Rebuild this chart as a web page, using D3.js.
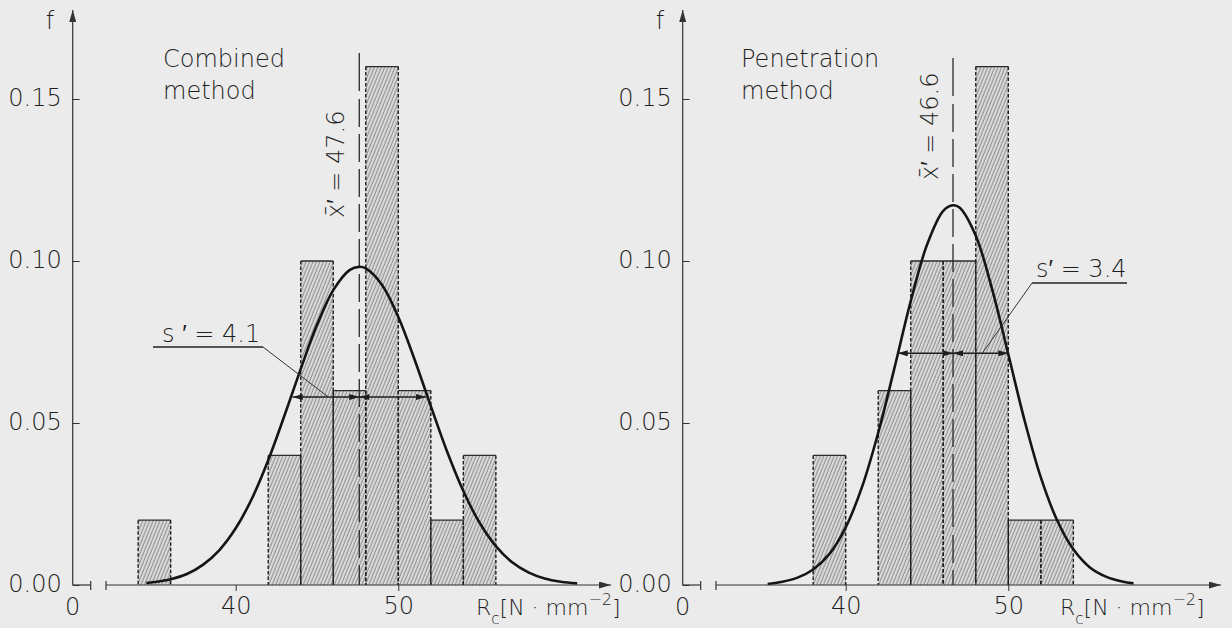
<!DOCTYPE html>
<html>
<head>
<meta charset="utf-8">
<script src="https://cdn.jsdelivr.net/npm/d3@7"></script>
<style>
  html, body { margin: 0; padding: 0; background: #ebebeb; }
  svg { display: block; }
  text { font-family: "DejaVu Sans", "Liberation Sans", sans-serif; font-weight: 200; fill: #1f1f1f; }
</style>
</head>
<body>
<div id="chart"></div>
<script>
// ── Data ───────────────────────────────────────────────────────────────
const yTicks = [0, 0.05, 0.1, 0.15];
const xTicks = [40, 50];
const binWidth = 2;

// Combined method: left edges of the bins and relative frequency
const combinedBins = [34, 42, 44, 46, 48, 50, 52, 54];
const combinedFreq = [0.02, 0.04, 0.10, 0.06, 0.16, 0.06, 0.02, 0.04];
// fitted curve
const combinedCurveX = [34.5, 35, 36, 37, 38, 39, 40, 41, 42, 43, 44, 45, 46, 47, 47.6,
  48, 49, 50, 51, 52, 53, 54, 55, 56, 57, 58, 59, 60, 61];
const combinedCurveF = [0.0006, 0.0009, 0.0018, 0.0034, 0.0063, 0.0108, 0.0175, 0.0267,
  0.0385, 0.0523, 0.0667, 0.0803, 0.0910, 0.0972, 0.0982, 0.0977, 0.0926, 0.0827, 0.0696,
  0.0552, 0.0412, 0.0290, 0.0192, 0.0120, 0.0070, 0.0039, 0.0020, 0.0010, 0.0005];

// Penetration method
const penetrationBins = [38, 42, 44, 46, 48, 50, 52];
const penetrationFreq = [0.04, 0.06, 0.10, 0.10, 0.16, 0.02, 0.02];
const penetrationCurveX = [35.2, 36, 37, 38, 39, 40, 41, 42, 43, 44, 45, 46, 46.6, 47,
  48, 49, 50, 51, 52, 53, 54, 55, 56, 57, 57.7];
const penetrationCurveF = [0.0003, 0.0009, 0.0022, 0.0048, 0.0096, 0.0178, 0.0302, 0.0470,
  0.0670, 0.0876, 0.1050, 0.1155, 0.1172, 0.1165, 0.1078, 0.0914, 0.0712, 0.0508, 0.0332,
  0.0200, 0.0110, 0.0055, 0.0026, 0.0011, 0.0005];

// ── Panels ─────────────────────────────────────────────────────────────
const panels = [
  {
    offset: 0,
    title: ["Combined", "method"],
    bins: combinedBins, freq: combinedFreq,
    curveX: combinedCurveX, curveF: combinedCurveF,
    mean: 47.6, s: 4.1, meanLabel: "x\u0304\u2032 = 47.6", meanTop: 53, meanLabelY: 218,
    sLabel: "s \u2032 = 4.1", sArrowF: 0.058, sLeaderAt: 45.7,
    sText: { x: 162, y: 342, u0: 153, u1: 263, uy: 347, side: "left" },
    unitX: 476,
  },
  {
    offset: 610,
    title: ["Penetration", "method"],
    bins: penetrationBins, freq: penetrationFreq,
    curveX: penetrationCurveX, curveF: penetrationCurveF,
    mean: 46.6, s: 3.4, meanLabel: "x\u0304\u2032 = 46.6", meanTop: 58, meanLabelY: 180,
    sLabel: "s\u2032 = 3.4", sArrowF: 0.0715, sLeaderAt: 48.4,
    sText: { x: 426, y: 277, u0: 422, u1: 517, uy: 283, side: "right" },
    unitX: 450,
  },
];

// ── SVG ────────────────────────────────────────────────────────────────
const W = 1232, H = 628;
const svg = d3.select("#chart").append("svg").attr("width", W).attr("height", H);

const defs = svg.append("defs");
const pat = defs.append("pattern")
  .attr("id", "hatch")
  .attr("patternUnits", "userSpaceOnUse")
  .attr("width", 3.2).attr("height", 10)
  .attr("patternTransform", "rotate(22)");
pat.append("rect").attr("width", 3.2).attr("height", 10).attr("fill", "#dadada");
pat.append("line")
  .attr("x1", 1).attr("x2", 1).attr("y1", 0).attr("y2", 10)
  .attr("stroke", "#7c7c7c").attr("stroke-width", 0.85);

defs.append("marker")
  .attr("id", "head")
  .attr("viewBox", "0 0 10 6").attr("refX", 10).attr("refY", 3)
  .attr("markerWidth", 12).attr("markerHeight", 6)
  .attr("markerUnits", "userSpaceOnUse")
  .attr("orient", "auto-start-reverse")
  .append("path").attr("d", "M0,0L10,3L0,6Z").attr("fill", "#1e1e1e");

defs.append("marker")
  .attr("id", "axisHead")
  .attr("viewBox", "0 0 12 7").attr("refX", 12).attr("refY", 3.5)
  .attr("markerWidth", 13).attr("markerHeight", 7)
  .attr("markerUnits", "userSpaceOnUse")
  .attr("orient", "auto")
  .append("path").attr("d", "M0,0L12,3.5L0,7Z").attr("fill", "#333");

const y = d3.scaleLinear().domain([0, 0.15]).range([585, 99]);

panels.forEach((p) => {
  const g = svg.append("g").attr("transform", `translate(${p.offset},0)`);
  const x = d3.scaleLinear().domain([40, 50]).range([235.7, 398.3]);
  const axisX = 72.7;
  const y0 = y(0);

  // ── Bars ─────────────────────────────────────────────────────────────
  const bars = p.bins.map((b, i) => ({ x0: b, x1: b + binWidth, f: p.freq[i] }));

  g.selectAll("rect.bar")
    .data(bars)
    .join("rect")
    .attr("class", "bar")
    .attr("x", (d) => x(d.x0))
    .attr("y", (d) => y(d.f))
    .attr("width", (d) => x(d.x1) - x(d.x0))
    .attr("height", (d) => y0 - y(d.f))
    .attr("fill", "url(#hatch)");

  g.selectAll("line.top")
    .data(bars)
    .join("line")
    .attr("x1", (d) => x(d.x0)).attr("x2", (d) => x(d.x1))
    .attr("y1", (d) => y(d.f)).attr("y2", (d) => y(d.f))
    .attr("stroke", "#2a2a2a").attr("stroke-width", 1.3);

  bars.forEach((d) => {
    [d.x0, d.x1].forEach((v) => {
      g.append("line")
        .attr("x1", x(v)).attr("x2", x(v))
        .attr("y1", y(d.f)).attr("y2", y0)
        .attr("stroke", "#1e1e1e").attr("stroke-width", 1.4)
        .attr("stroke-dasharray", "3.5,2");
    });
  });

  // ── Mean line ────────────────────────────────────────────────────────
  g.append("line")
    .attr("x1", x(p.mean)).attr("x2", x(p.mean))
    .attr("y1", p.meanTop).attr("y2", y0)
    .attr("stroke", "#2a2a2a").attr("stroke-width", 1.3)
    .attr("stroke-dasharray", "38,8,28,7,28,7,28,7,28,7,28,7,28,7,28,7,28,7,28,7,28,7,28,7");

  g.append("text")
    .attr("transform", `translate(${x(p.mean) - 15},${p.meanLabelY}) rotate(-90)`)
    .attr("font-size", 24)
    .text(p.meanLabel);

  // ── Fitted curve ─────────────────────────────────────────────────────
  const pts = p.curveX.map((v, i) => [v, p.curveF[i]]);
  g.append("path")
    .datum(pts)
    .attr("fill", "none")
    .attr("stroke", "#151515")
    .attr("stroke-width", 2.6)
    .attr("d", d3.line().x((d) => x(d[0])).y((d) => y(d[1])).curve(d3.curveCatmullRom));

  // ── s' arrows ────────────────────────────────────────────────────────
  const ya = y(p.sArrowF);
  [[p.mean - p.s, p.mean], [p.mean, p.mean + p.s]].forEach(([a, b]) => {
    g.append("line")
      .attr("x1", x(a)).attr("x2", x(b))
      .attr("y1", ya).attr("y2", ya)
      .attr("stroke", "#1e1e1e").attr("stroke-width", 1.5)
      .attr("marker-start", "url(#head)")
      .attr("marker-end", "url(#head)");
  });

  const st = p.sText;
  const corner = st.side === "left" ? st.u1 : st.u0;
  g.append("line")
    .attr("x1", st.u0).attr("x2", st.u1)
    .attr("y1", st.uy).attr("y2", st.uy)
    .attr("stroke", "#222").attr("stroke-width", 1.3);
  g.append("line")
    .attr("x1", corner).attr("y1", st.uy)
    .attr("x2", x(p.sLeaderAt)).attr("y2", ya)
    .attr("stroke", "#333").attr("stroke-width", 1);
  g.append("text")
    .attr("x", st.x).attr("y", st.y)
    .attr("font-size", 24)
    .text(p.sLabel);

  // ── Axes ─────────────────────────────────────────────────────────────
  const yAxis = g.append("g")
    .attr("transform", `translate(${axisX},0)`)
    .call(d3.axisLeft(y).tickValues(yTicks).tickSize(-7).tickPadding(11)
      .tickFormat(d3.format(".2f")));
  yAxis.select(".domain").remove();
  yAxis.selectAll(".tick line").attr("stroke", "#333");
  yAxis.selectAll(".tick text")
    .attr("font-size", 24).attr("font-family", null).attr("fill", "#1f1f1f")
    .attr("dy", "0.28em");

  g.append("line")
    .attr("x1", axisX).attr("x2", axisX)
    .attr("y1", y0).attr("y2", 10)
    .attr("stroke", "#333").attr("stroke-width", 1.2)
    .attr("marker-end", "url(#axisHead)");

  const xAxis = g.append("g")
    .attr("transform", `translate(0,${y0})`)
    .call(d3.axisBottom(x).tickValues(xTicks).tickSize(6).tickPadding(6)
      .tickFormat(d3.format("d")));
  xAxis.select(".domain").remove();
  xAxis.selectAll(".tick line").attr("stroke", "#333");
  xAxis.selectAll(".tick text")
    .attr("font-size", 24).attr("font-family", null).attr("fill", "#1f1f1f");

  // broken x axis: origin stub, break marks, main line with arrow
  const brk = [90.7, 106];
  g.append("line")
    .attr("x1", axisX).attr("x2", brk[0]).attr("y1", y0).attr("y2", y0)
    .attr("stroke", "#333").attr("stroke-width", 1.2);
  brk.forEach((bx) => {
    g.append("line")
      .attr("x1", bx).attr("x2", bx).attr("y1", y0 - 4).attr("y2", y0 + 5)
      .attr("stroke", "#333").attr("stroke-width", 1.2);
  });
  g.append("line")
    .attr("x1", brk[1]).attr("x2", 611).attr("y1", y0).attr("y2", y0)
    .attr("stroke", "#333").attr("stroke-width", 1.2)
    .attr("marker-end", "url(#axisHead)");

  g.append("text")
    .attr("x", axisX).attr("y", 615)
    .attr("text-anchor", "middle").attr("font-size", 24)
    .text("0");

  const unit = g.append("text")
    .attr("x", p.unitX).attr("y", 615)
    .attr("font-size", 22);
  unit.append("tspan").text("R");
  unit.append("tspan").attr("font-size", 15).attr("dy", 9).text("c");
  unit.append("tspan").attr("dy", -9).text("[N \u00b7 mm");
  unit.append("tspan").attr("font-size", 16).attr("dy", -10).text("\u22122");
  unit.append("tspan").attr("dy", 10).text("]");

  g.append("text")
    .attr("x", 50).attr("y", 29)
    .attr("text-anchor", "middle").attr("font-size", 24)
    .text("f");

  g.selectAll("text.title")
    .data(p.title)
    .join("text")
    .attr("class", "title")
    .attr("x", st.side === "left" ? 163 : 131)
    .attr("y", (d, i) => 67 + i * 31.5)
    .attr("font-size", 24)
    .text((d) => d);
});
</script>
</body>
</html>
